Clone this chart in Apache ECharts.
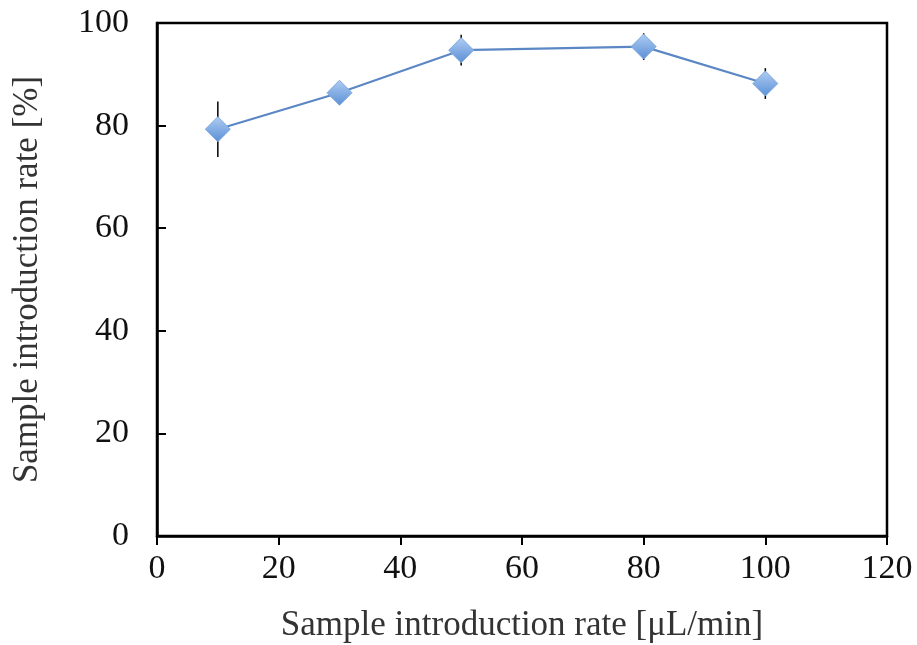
<!DOCTYPE html>
<html>
<head>
<meta charset="utf-8">
<script src="https://cdn.jsdelivr.net/npm/echarts@6/dist/echarts.min.js"></script>
<style>
html, body { margin: 0; padding: 0; background: #fff; }
#main { width: 917px; height: 645px; }
</style>
</head>
<body>
<div id="main"></div>
<script>
var rates = [10, 30, 50, 80, 100];
var introRate = [79.3, 86.4, 94.7, 95.4, 88.2];
var errors = [5.4, 0.6, 3.0, 2.6, 3.0];

var chart = echarts.init(document.getElementById('main'));

var font = 'Liberation Serif, Times New Roman, serif';

var lineData = rates.map(function (x, i) { return [x, introRate[i]]; });
var errData = rates.map(function (x, i) {
  return [x, introRate[i] - errors[i], introRate[i] + errors[i]];
});

chart.setOption({
  animation: false,
  grid: { left: 157, top: 23, right: 30, bottom: 109,
    outerBoundsMode: 'none', containLabel: false,
    show: true, borderColor: '#000', borderWidth: 2.5 },
  xAxis: {
    type: 'value', min: 0, max: 120, interval: 20,
    name: 'Sample introduction rate [\u03bcL/min]',
    nameLocation: 'middle', nameGap: 72,
    nameTextStyle: { fontFamily: font, fontSize: 35, color: '#333' },
    axisLine: { lineStyle: { color: '#000', width: 2.5 } },
    axisTick: { show: true, length: 9, lineStyle: { color: '#000', width: 2 } },
    axisLabel: { fontFamily: font, fontSize: 34, color: '#111', margin: 16 },
    splitLine: { show: false }
  },
  yAxis: {
    type: 'value', min: 0, max: 100, interval: 20,
    name: 'Sample introduction rate [%]',
    nameLocation: 'middle', nameGap: 112,
    nameTextStyle: { fontFamily: font, fontSize: 35, color: '#333' },
    axisLine: { lineStyle: { color: '#000', width: 2.5 } },
    axisTick: { show: true, inside: true, length: 9, lineStyle: { color: '#000', width: 2 } },
    axisLabel: { fontFamily: font, fontSize: 34, color: '#111', margin: 28 },
    splitLine: { show: false }
  },
  series: [
    {
      type: 'custom',
      data: errData,
      z: 1,
      renderItem: function (params, api) {
        var top = api.coord([api.value(0), api.value(2)]);
        var bot = api.coord([api.value(0), api.value(1)]);
        return {
          type: 'line',
          shape: { x1: top[0], y1: top[1], x2: bot[0], y2: bot[1] },
          style: { stroke: '#000', lineWidth: 1.5 }
        };
      }
    },
    {
      type: 'line',
      data: lineData,
      z: 3,
      symbol: 'diamond',
      symbolSize: [25, 25],
      lineStyle: { color: '#5b87c5', width: 2.2 },
      itemStyle: {
        color: new echarts.graphic.LinearGradient(0, 0, 0, 1, [
          { offset: 0, color: '#b0cdf2' },
          { offset: 1, color: '#5a8fd6' }
        ]),
        borderColor: '#7ea8df',
        borderWidth: 1
      }
    }
  ]
});
</script>
</body>
</html>
